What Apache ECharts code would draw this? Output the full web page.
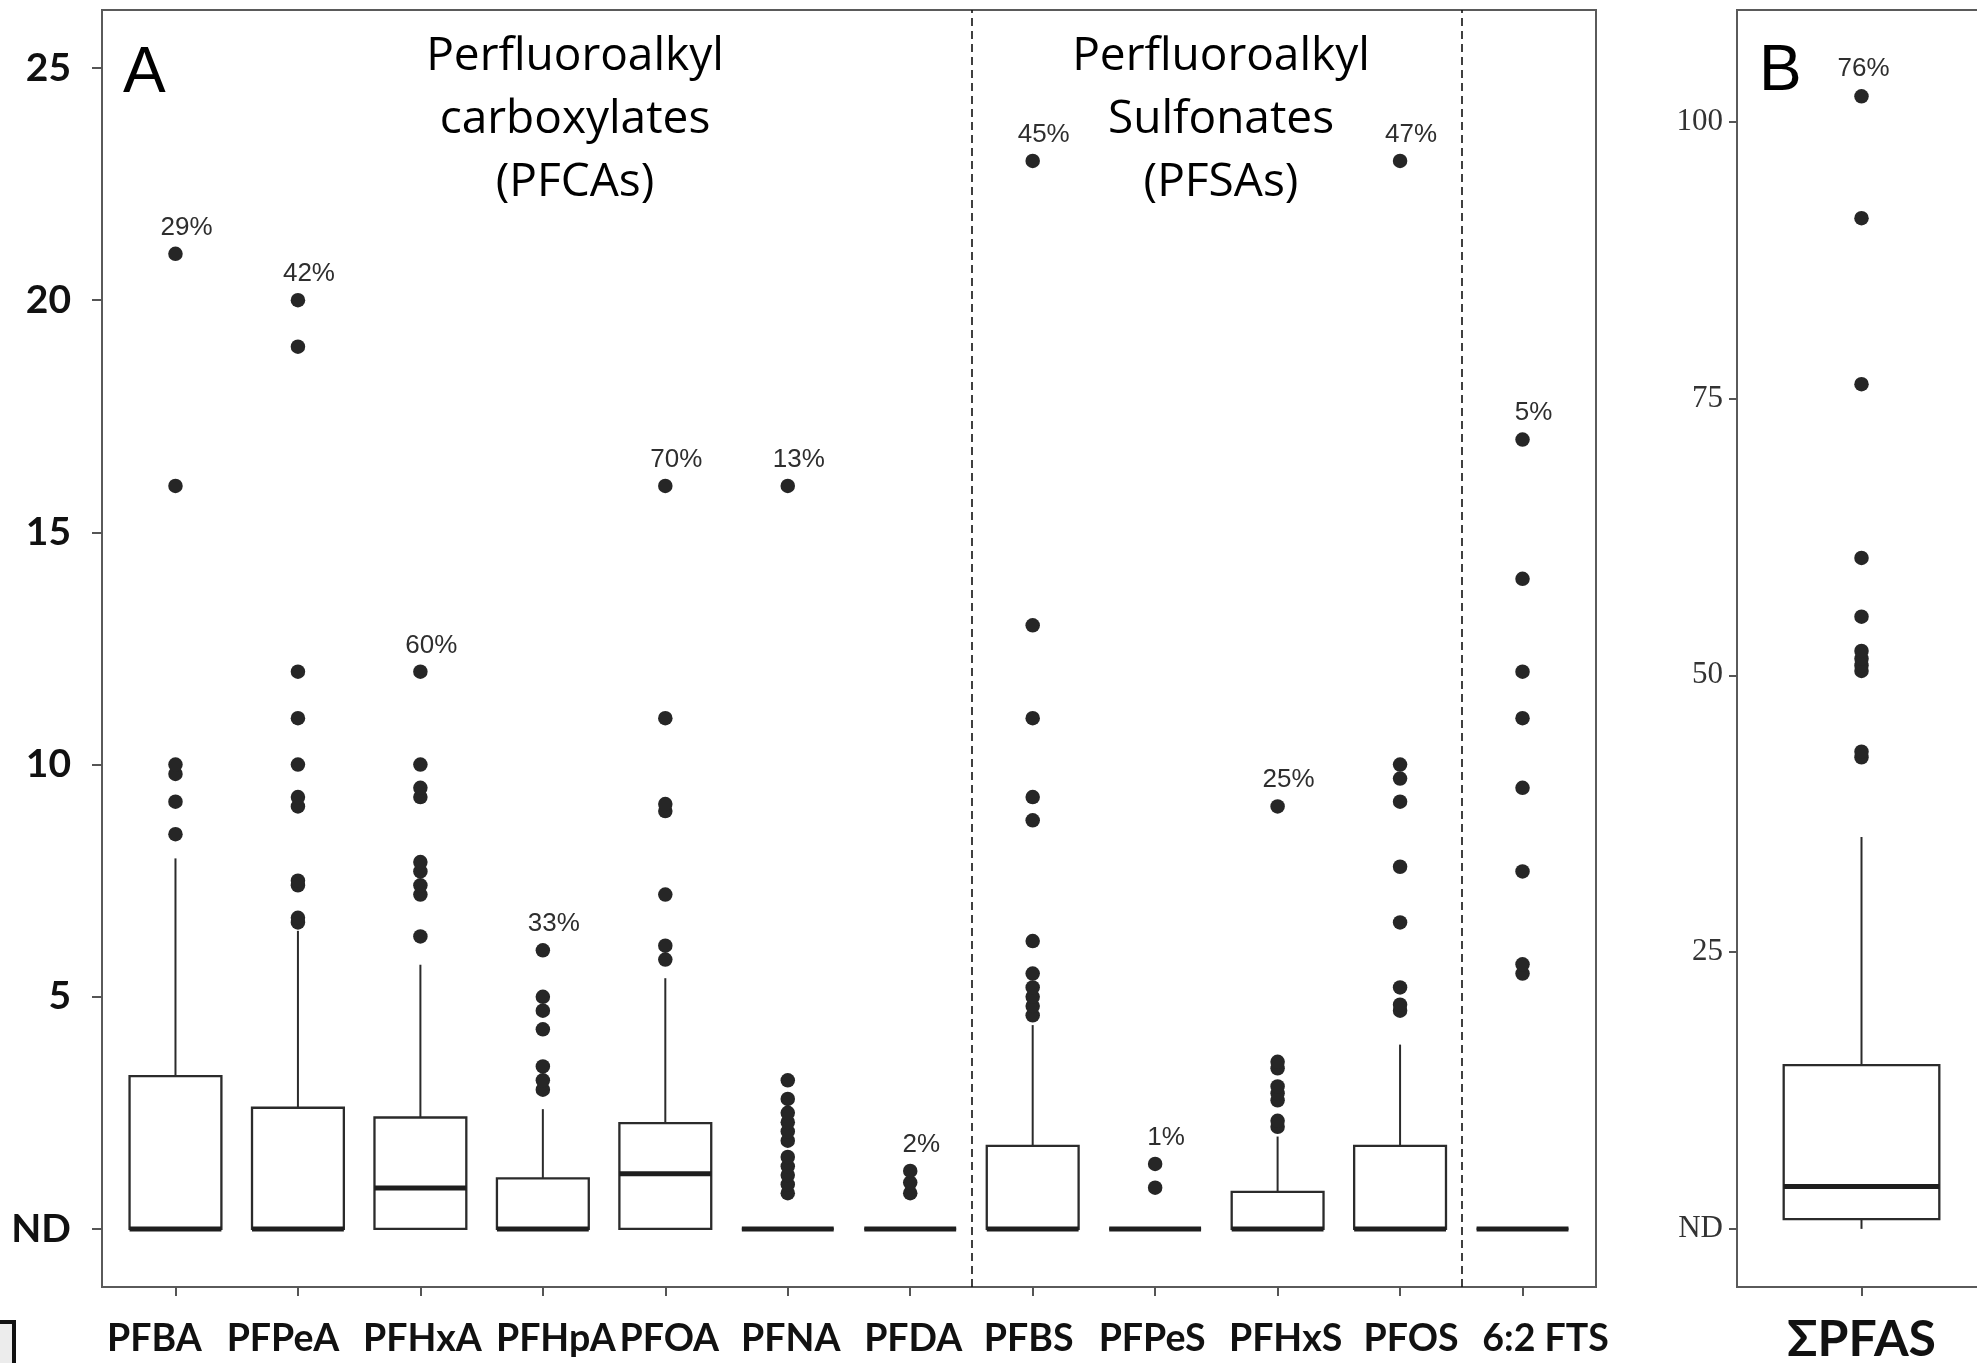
<!DOCTYPE html>
<html>
<head>
<meta charset="utf-8">
<script src="https://cdn.jsdelivr.net/npm/echarts@6/dist/echarts.min.js"></script>
<style>
html,body{margin:0;padding:0;background:#fff;}
#chart{width:1977px;height:1363px;}
</style>
</head>
<body>
<div id="chart"></div>
<script>
// ---------------- DATA ----------------
const categories = ['PFBA','PFPeA','PFHxA','PFHpA','PFOA','PFNA','PFDA','PFBS','PFPeS','PFHxS','PFOS','6:2 FTS'];
const whiskerLow  = [0, 0, 0, 0, 0, 0, 0, 0, 0, 0, 0, 0];
const q1          = [0, 0, 0, 0, 0, 0, 0, 0, 0, 0, 0, 0];
const medians     = [0, 0, 0.88, 0, 1.19, 0, 0, 0, 0, 0, 0, 0];
const q3          = [3.29, 2.61, 2.40, 1.09, 2.28, 0, 0, 1.79, 0, 0.80, 1.79, 0];
const whiskerHigh = [7.98, 6.42, 5.69, 2.58, 5.40, 0, 0, 4.39, 0, 1.99, 3.97, 0];
const outliers = [
  [8.5, 9.2, 9.8, 10.0, 16, 21],
  [6.6, 6.7, 7.4, 7.5, 9.1, 9.3, 10, 11, 12, 19, 20],
  [6.3, 7.2, 7.4, 7.7, 7.9, 9.3, 9.5, 10, 12],
  [3.0, 3.2, 3.5, 4.3, 4.7, 5.0, 6.0],
  [5.8, 6.1, 7.2, 9.0, 9.15, 11, 16],
  [0.77, 0.96, 1.16, 1.35, 1.55, 1.9, 2.1, 2.3, 2.5, 2.8, 3.2, 16],
  [0.77, 1.0, 1.25],
  [4.6, 4.8, 5.0, 5.2, 5.5, 6.2, 8.8, 9.3, 11, 13, 23],
  [0.89, 1.4],
  [2.2, 2.33, 2.77, 2.92, 3.07, 3.46, 3.6, 9.1],
  [4.7, 4.83, 5.2, 6.6, 7.8, 9.2, 9.7, 10.0, 23],
  [5.5, 5.7, 7.7, 9.5, 11, 12, 14, 17]
];
const detectionRates = ['29%','42%','60%','33%','70%','13%','2%','45%','1%','25%','47%','5%'];
const groupSizes = [7, 4, 1];
const groupTitles = ['Perfluoroalkyl\ncarboxylates\n(PFCAs)', 'Perfluoroalkyl\nSulfonates\n(PFSAs)'];
const yTicksA = [0, 5, 10, 15, 20, 25];

const sumCategory = ['ΣPFAS'];
const sumLow = [0];
const sumQ1 = [0.88];
const sumMedian = [3.83];
const sumQ3 = [14.8];
const sumHigh = [35.4];
const sumOutliers = [[42.6, 43.1, 50.4, 50.9, 51.5, 52.2, 55.3, 60.6, 76.3, 91.3, 102.3]];
const sumDetection = ['76%'];
const yTicksB = [0, 25, 50, 75, 100];

// ---------------- BUILD ----------------
const BOX_WIDTH = 0.75;
const GRID_A = {left: 102, top: 10, width: 1494, height: 1277};
const GRID_B = {left: 1737, top: 10, width: 249, height: 1277};
const BAND_A = GRID_A.width / 12.2;
const labelShiftPx = [-21, -15, 2, 13, 4, 3, 3, -4, -3, 8, 11, 23];

function boxData(n, lo, a, m, b, hi) {
  const out = [];
  for (let i = 0; i < n; i++) out.push([i + 1, lo[i], a[i], m[i], b[i], hi[i]]);
  return out;
}
function outlierData(lists, rates) {
  const out = [];
  lists.forEach((vals, i) => {
    const top = Math.max.apply(null, vals);
    let labeled = false;
    vals.forEach(v => {
      const item = {value: [i + 1, v]};
      if (v === top && !labeled) { item.label = {show: true, formatter: rates[i]}; labeled = true; }
      out.push(item);
    });
  });
  return out;
}
function renderBox(params, api) {
  const x = api.value(0);
  const lo = api.value(1), b1 = api.value(2), md = api.value(3), b3 = api.value(4), hi = api.value(5);
  const half = api.size([BOX_WIDTH, 0])[0] / 2;
  const pLo = api.coord([x, lo]), p1 = api.coord([x, b1]), pm = api.coord([x, md]);
  const p3 = api.coord([x, b3]), pHi = api.coord([x, hi]);
  const stroke = '#2b2b2b';
  const children = [];
  if (hi > b3) children.push({type: 'line', shape: {x1: p3[0], y1: p3[1], x2: pHi[0], y2: pHi[1]}, style: {stroke: stroke, lineWidth: 2}});
  if (lo < b1) children.push({type: 'line', shape: {x1: pLo[0], y1: pLo[1], x2: p1[0], y2: p1[1]}, style: {stroke: stroke, lineWidth: 2}});
  children.push({type: 'rect', shape: {x: p3[0] - half, y: p3[1], width: half * 2, height: p1[1] - p3[1]}, style: {fill: '#fff', stroke: stroke, lineWidth: 2.3}});
  children.push({type: 'line', shape: {x1: pm[0] - half, y1: pm[1], x2: pm[0] + half, y2: pm[1]}, style: {stroke: '#1e1e1e', lineWidth: 5}});
  return {type: 'group', children: children};
}

const breaks = [];
let acc = 0;
for (let g = 0; g < groupSizes.length - 1; g++) { acc += groupSizes[g]; breaks.push(acc + 0.5); }

const axisLineStyle = {color: '#5a5a5a', width: 2};
const tickStyle = {color: '#555', width: 2};
const pctLabel = {show: false, position: 'top', distance: 6, fontFamily: 'Liberation Sans', fontSize: 26, color: '#2e2e2e'};
const gridBase = {show: true, borderColor: '#5a5a5a', borderWidth: 2, backgroundColor: 'transparent', containLabel: false, outerBoundsMode: 'none'};

const option = {
  animation: false,
  backgroundColor: '#fff',
  grid: [
    Object.assign({}, gridBase, GRID_A),
    Object.assign({}, gridBase, GRID_B)
  ],
  xAxis: [
    {
      gridIndex: 0, type: 'value', min: 0.4, max: 12.6,
      splitLine: {show: false},
      axisLine: {show: true, onZero: false, lineStyle: axisLineStyle},
      axisTick: {show: true, customValues: categories.map((c, i) => i + 1), length: 9, lineStyle: tickStyle},
      axisLabel: {
        customValues: categories.map((c, i) => i + 1 + labelShiftPx[i] / BAND_A),
        formatter: v => categories[Math.round(v) - 1] || '',
        fontFamily: 'Lato', fontWeight: 'bold', fontSize: 37.5, lineHeight: 40, color: '#111', margin: 32
      }
    },
    {
      gridIndex: 1, type: 'value', min: 0.4, max: 1.6,
      splitLine: {show: false},
      axisLine: {show: true, onZero: false, lineStyle: axisLineStyle},
      axisTick: {show: true, customValues: [1], length: 9, lineStyle: tickStyle},
      axisLabel: {
        customValues: [1],
        formatter: v => sumCategory[Math.round(v) - 1] || '',
        fontFamily: 'Lato', fontWeight: 'bold', fontSize: 50, lineHeight: 50, color: '#111', margin: 28
      }
    }
  ],
  yAxis: [
    {
      gridIndex: 0, type: 'value', min: -1.25, max: 26.25,
      splitLine: {show: false},
      axisLine: {show: true, onZero: false, lineStyle: axisLineStyle},
      axisTick: {show: true, customValues: yTicksA, length: 10, lineStyle: tickStyle},
      axisLabel: {
        customValues: yTicksA,
        formatter: v => (v === 0 ? 'ND' : String(v)),
        fontFamily: 'Lato', fontWeight: 'bold', fontSize: 39, color: '#111', margin: 31
      }
    },
    {
      gridIndex: 1, type: 'value', min: -5.25, max: 110.1,
      splitLine: {show: false},
      axisLine: {show: true, onZero: false, lineStyle: axisLineStyle},
      axisTick: {show: true, customValues: yTicksB, length: 8, lineStyle: tickStyle},
      axisLabel: {
        customValues: yTicksB,
        formatter: v => (v === 0 ? 'ND' : String(v)),
        fontFamily: 'Liberation Serif', fontSize: 31, color: '#333', margin: 14
      }
    }
  ],
  series: [
    {
      type: 'custom', xAxisIndex: 0, yAxisIndex: 0,
      renderItem: renderBox,
      encode: {x: 0, y: [1, 2, 3, 4, 5]},
      data: boxData(categories.length, whiskerLow, q1, medians, q3, whiskerHigh),
      z: 2
    },
    {
      type: 'scatter', xAxisIndex: 0, yAxisIndex: 0,
      symbol: 'circle', symbolSize: 14.5,
      itemStyle: {color: '#262626', opacity: 1},
      label: Object.assign({}, pctLabel, {offset: [11, 0]}),
      data: outlierData(outliers, detectionRates),
      markLine: {
        silent: true, symbol: ['none', 'none'],
        label: {show: false},
        lineStyle: {color: '#111', width: 1.6, type: [8, 5]},
        data: breaks.map(b => ({xAxis: b}))
      },
      z: 3
    },
    {
      type: 'custom', xAxisIndex: 1, yAxisIndex: 1,
      renderItem: renderBox,
      encode: {x: 0, y: [1, 2, 3, 4, 5]},
      data: boxData(1, sumLow, sumQ1, sumMedian, sumQ3, sumHigh),
      z: 2
    },
    {
      type: 'scatter', xAxisIndex: 1, yAxisIndex: 1,
      symbol: 'circle', symbolSize: 14.5,
      itemStyle: {color: '#262626', opacity: 1},
      label: Object.assign({}, pctLabel, {offset: [2, 0], distance: 7}),
      data: outlierData(sumOutliers, sumDetection),
      z: 3
    }
  ],
  graphic: [
    {type: 'text', x: 575, y: 120, z: 10, style: {text: groupTitles[0], fontFamily: 'Open Sans', fontSize: 46, lineHeight: 63, fill: '#000', align: 'center', verticalAlign: 'middle'}},
    {type: 'text', x: 1221, y: 120, z: 10, style: {text: groupTitles[1], fontFamily: 'Open Sans', fontSize: 46, lineHeight: 63, fill: '#000', align: 'center', verticalAlign: 'middle'}},
    {type: 'text', x: 123, y: 74, z: 10, style: {text: 'A', fontFamily: 'Liberation Sans', fontSize: 64, fill: '#000', align: 'left', verticalAlign: 'middle'}},
    {type: 'text', x: 1759, y: 72, z: 10, style: {text: 'B', fontFamily: 'Liberation Sans', fontSize: 64, fill: '#000', align: 'left', verticalAlign: 'middle'}},
    {type: 'rect', x: -20, y: 1322, z: 10, shape: {width: 34, height: 60}, style: {fill: '#ececec', stroke: '#111', lineWidth: 4}}
  ]
};

const chart = echarts.init(document.getElementById('chart'), null, {renderer: 'canvas'});
chart.setOption(option);
</script>
</body>
</html>
